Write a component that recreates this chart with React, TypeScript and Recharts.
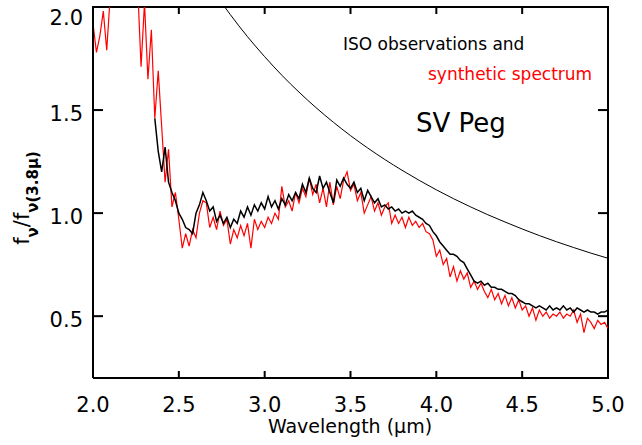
import React from "react";
import { LineChart, Line, XAxis, YAxis, Customized } from "recharts";

const STEP = 0.02;
const ISO_START = 2.36;
const MODEL_START = 2.0;

// ISO observations (black), 2.36 .. 5.00 step 0.02
const ISO_FLUX = [
  1.46, 1.30, 1.20, 1.32, 1.15, 1.10, 1.06, 1.00, 0.97, 0.93,
  0.92, 0.90, 1.00, 1.04, 1.10, 1.06, 1.01, 1.03, 0.96, 0.99,
  0.95, 0.98, 0.93, 0.97, 0.95, 1.01, 0.98, 1.03, 0.99, 1.04,
  1.01, 1.05, 1.02, 1.08, 1.03, 1.06, 1.02, 1.07, 1.04, 1.09,
  1.06, 1.10, 1.07, 1.14, 1.10, 1.17, 1.12, 1.10, 1.18, 1.12,
  1.15, 1.10, 1.05, 1.16, 1.13, 1.17, 1.14, 1.12, 1.15, 1.10,
  1.12, 1.06, 1.11, 1.08, 1.05, 1.07, 1.03, 1.04, 1.02, 1.03,
  1.01, 1.02, 1.00, 1.01, 1.00, 1.01, 0.99, 0.98, 0.97, 0.95,
  0.94, 0.91, 0.89, 0.86, 0.84, 0.82, 0.80, 0.80, 0.79, 0.77,
  0.76, 0.73, 0.70, 0.67, 0.66, 0.67, 0.65, 0.66, 0.64, 0.64,
  0.63, 0.63, 0.62, 0.61, 0.61, 0.60, 0.58, 0.57, 0.56, 0.56,
  0.55, 0.54, 0.55, 0.54, 0.53, 0.55, 0.53, 0.54, 0.53, 0.55,
  0.53, 0.54, 0.52, 0.54, 0.53, 0.52, 0.53, 0.52, 0.52, 0.51,
  0.52, 0.52, 0.53,
];

// synthetic spectrum (red), 2.00 .. 5.00 step 0.02
const MODEL_FLUX = [
  1.92, 1.78, 1.86, 1.98, 1.79, 2.05, 2.20, 2.30, 2.40, 2.40,
  2.35, 2.30, 2.20, 2.10, 1.71, 2.02, 1.65, 1.89, 1.46, 1.69,
  1.42, 1.15, 1.31, 1.03, 1.10, 0.97, 0.83, 0.90, 0.84, 0.92,
  0.88, 1.00, 1.06, 1.05, 0.93, 0.98, 0.92, 1.01, 0.94, 0.97,
  0.85, 0.92, 0.88, 0.94, 0.89, 0.95, 0.83, 0.97, 0.92, 0.96,
  0.93, 0.98, 0.95, 1.00, 0.97, 1.13, 1.03, 1.06, 1.01, 1.10,
  1.05, 1.12, 1.08, 1.17, 1.09, 1.14, 1.05, 1.12, 1.03, 1.15,
  1.04, 1.13, 1.07, 1.16, 1.20, 1.11, 1.14, 1.06, 1.10, 1.00,
  1.04, 1.08, 1.01, 1.05, 0.99, 1.03, 1.05, 0.95, 0.99, 0.95,
  0.98, 0.93, 0.98, 0.94, 0.96, 0.93, 0.95, 0.91, 0.90, 0.87,
  0.79, 0.82, 0.75, 0.78, 0.69, 0.74, 0.67, 0.72, 0.68, 0.71,
  0.64, 0.67, 0.63, 0.66, 0.62, 0.59, 0.63, 0.58, 0.61, 0.56,
  0.60, 0.55, 0.59, 0.54, 0.58, 0.53, 0.55, 0.50, 0.54, 0.48,
  0.53, 0.50, 0.52, 0.49, 0.51, 0.50, 0.52, 0.49, 0.51, 0.50,
  0.53, 0.47, 0.51, 0.42, 0.49, 0.47, 0.44, 0.48, 0.46, 0.47,
  0.44,
];

// smooth reference curve (thin black)
const BB_WAVE = [2.6, 2.7, 2.8, 2.9, 3.0, 3.1, 3.2, 3.3, 3.4, 3.5, 3.6, 3.7, 3.8, 3.9, 4.0, 4.1, 4.2, 4.3, 4.4, 4.5, 4.6, 4.7, 4.8, 4.9, 5.0];
const BB_FLUX = [2.21, 2.08, 1.963, 1.856, 1.759, 1.669, 1.587, 1.511, 1.441, 1.376, 1.316, 1.26, 1.208, 1.159, 1.113, 1.07, 1.03, 0.992, 0.957, 0.923, 0.891, 0.861, 0.833, 0.806, 0.781];

const X_TICKS = [2.0, 2.5, 3.0, 3.5, 4.0, 4.5, 5.0];
const Y_TICKS = [0.5, 1.0, 1.5, 2.0];
const X_DOMAIN = [2, 5];
const Y_DOMAIN = [0.2, 2.0];

const isoData = ISO_FLUX.map((v, i) => ({ x: +(ISO_START + i * STEP).toFixed(2), y: v }));
const modelData = MODEL_FLUX.map((v, i) => ({ x: +(MODEL_START + i * STEP).toFixed(2), y: v }));
const bbData = BB_WAVE.map((w, i) => ({ x: w, y: BB_FLUX[i] }));

const FONT = "'DejaVu Sans', sans-serif";
const MARGIN = { top: 7, right: 34, bottom: 0, left: 0 };
const CHART_W = 642;
const CHART_H = 445;
const YAXIS_W = 93;
const XAXIS_H = 67;

const PLOT_LEFT = MARGIN.left + YAXIS_W;
const PLOT_TOP = MARGIN.top;
const PLOT_RIGHT = CHART_W - MARGIN.right;
const PLOT_BOTTOM = CHART_H - MARGIN.bottom - XAXIS_H;

const BottomTick = (props: any) => {
  const { x, y, payload } = props;
  return (
    <g>
      <rect x={x - 1} y={y - 7} width={2} height={7} fill="#000" />
      <text x={x} y={y + 34} textAnchor="middle" fontFamily={FONT} fontSize={21} fill="#000">
        {Number(payload.value).toFixed(1)}
      </text>
    </g>
  );
};

const LeftTick = (props: any) => {
  const { x, y, payload } = props;
  const dy = payload.value === 2 ? 11 : 4;
  return (
    <g>
      <rect x={x} y={y - 1} width={10} height={2} fill="#000" />
      <text x={x - 10} y={y + dy} dominantBaseline="central" textAnchor="end" fontFamily={FONT} fontSize={21} fill="#000">
        {Number(payload.value).toFixed(1)}
      </text>
    </g>
  );
};

const sx = (v: number) => PLOT_LEFT + ((v - X_DOMAIN[0]) / (X_DOMAIN[1] - X_DOMAIN[0])) * (PLOT_RIGHT - PLOT_LEFT);
const sy = (v: number) => PLOT_BOTTOM - ((v - Y_DOMAIN[0]) / (Y_DOMAIN[1] - Y_DOMAIN[0])) * (PLOT_BOTTOM - PLOT_TOP);

// top/right frame with mirrored inward ticks, plus all text annotations
const Overlay = () => (
  <g>
    <rect x={PLOT_LEFT - 1} y={PLOT_TOP - 1} width={PLOT_RIGHT - PLOT_LEFT + 2} height={2} fill="#000" />
    <rect x={PLOT_RIGHT - 1} y={PLOT_TOP - 1} width={2} height={PLOT_BOTTOM - PLOT_TOP + 2} fill="#000" />
    {X_TICKS.map((t) => (
      <rect key={"tx" + t} x={sx(t) - 1} y={PLOT_TOP} width={2} height={7} fill="#000" />
    ))}
    {Y_TICKS.map((t) => (
      <rect key={"ty" + t} x={PLOT_RIGHT - 10} y={sy(t) - 1} width={10} height={2} fill="#000" />
    ))}
    <text x={350} y={433} textAnchor="middle" fontFamily={FONT} fontSize={19} fill="#000">
      Wavelength (μm)
    </text>
    <text transform="translate(29,198) rotate(-90)" textAnchor="middle" fontFamily={FONT} fontSize={21} fill="#000">
      f
      <tspan fontSize={15} fontWeight="bold" dy={9}>ν</tspan>
      <tspan fontSize={21} dy={-9}>/f</tspan>
      <tspan fontSize={15} fontWeight="bold" dy={9}>ν(3.8μ)</tspan>
    </text>
    <text x={343} y={50} fontFamily={FONT} fontSize={17} fill="#000">
      ISO observations and
    </text>
    <text x={428} y={80} fontFamily={FONT} fontSize={17} fill="#ff0000">
      synthetic spectrum
    </text>
    <text x={416} y={132} fontFamily={FONT} fontSize={26} fill="#000">
      SV Peg
    </text>
  </g>
);

export default function App() {
  return (
    <div style={{ position: "absolute", left: 0, top: 0 }}>
      <LineChart width={CHART_W} height={CHART_H} margin={MARGIN}>
        <XAxis
          type="number"
          dataKey="x"
          domain={X_DOMAIN}
          ticks={X_TICKS}
          allowDataOverflow
          height={XAXIS_H}
          tickSize={0}
          tickMargin={0}
          tickLine={false}
          axisLine={{ stroke: "#000", strokeWidth: 2 }}
          tick={<BottomTick />}
          interval={0}
        />
        <YAxis
          type="number"
          domain={Y_DOMAIN}
          ticks={Y_TICKS}
          allowDataOverflow
          width={YAXIS_W}
          tickSize={0}
          tickMargin={0}
          tickLine={false}
          axisLine={{ stroke: "#000", strokeWidth: 2 }}
          tick={<LeftTick />}
          interval={0}
        />
        <Line data={bbData} dataKey="y" type="monotone" stroke="#000" strokeWidth={1} dot={false} isAnimationActive={false} />
        <Line data={modelData} dataKey="y" type="linear" stroke="#ff0000" strokeWidth={1.2} dot={false} isAnimationActive={false} />
        <Line data={isoData} dataKey="y" type="linear" stroke="#000" strokeWidth={1.5} dot={false} isAnimationActive={false} />
        <Customized component={Overlay} />
      </LineChart>
    </div>
  );
}
